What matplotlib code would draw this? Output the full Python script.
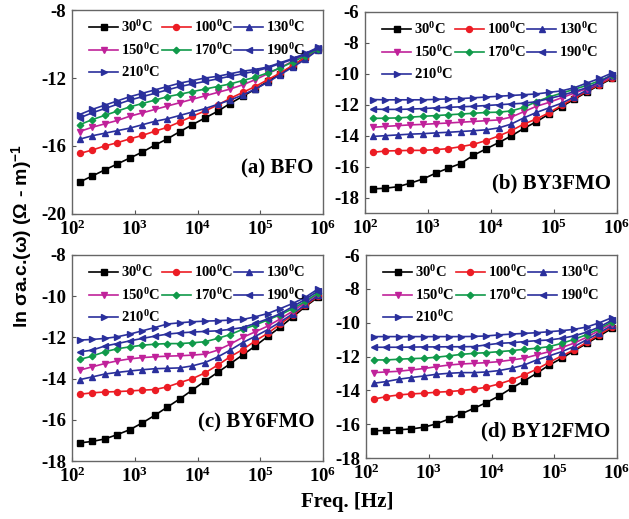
import matplotlib.pyplot as plt

plt.rcParams['font.family'] = 'Liberation Serif'
plt.rcParams['font.weight'] = 'bold'
plt.rcParams['mathtext.fontset'] = 'custom'
plt.rcParams['mathtext.rm'] = 'Liberation Serif:bold'
plt.rcParams['mathtext.it'] = 'Liberation Serif:bold'
plt.rcParams['mathtext.bf'] = 'Liberation Serif:bold'
plt.rcParams['mathtext.sf'] = 'Liberation Sans:bold'
plt.rcParams['axes.unicode_minus'] = False

# measurement frequencies (Hz)
freq = [132, 209, 331, 525, 832, 1318, 2089, 3311, 5248, 8318,
        13183, 20893, 33113, 52481, 83176, 131826, 208930, 331131, 524807, 831764]

temps = ['30', '100', '130', '150', '170', '190', '210']

# ln sigma_ac for each temperature (rows follow temps)
bfo = [
    [-18.12, -17.77, -17.41, -17.06, -16.71, -16.36, -15.95, -15.58, -15.15, -14.74,
     -14.35, -13.96, -13.5, -13.08, -12.65, -12.2, -11.75, -11.28, -10.77, -10.3],
    [-16.44, -16.24, -16.0, -15.81, -15.58, -15.38, -15.13, -14.9, -14.58, -14.25,
     -13.94, -13.59, -13.2, -12.85, -12.5, -12.1, -11.7, -11.25, -10.8, -10.35],
    [-15.6, -15.4, -15.25, -15.1, -14.95, -14.75, -14.55, -14.4, -14.2, -14.0,
     -13.8, -13.55, -13.3, -13.0, -12.65, -12.25, -11.8, -11.35, -10.9, -10.35],
    [-15.15, -14.9, -14.7, -14.5, -14.25, -14.05, -13.85, -13.65, -13.45, -13.25,
     -13.05, -12.85, -12.65, -12.4, -12.1, -11.75, -11.4, -11.0, -10.65, -10.3],
    [-14.75, -14.45, -14.2, -13.95, -13.7, -13.5, -13.3, -13.1, -12.95, -12.8,
     -12.65, -12.5, -12.35, -12.15, -11.95, -11.7, -11.4, -11.05, -10.7, -10.3],
    [-14.35, -14.05, -13.8, -13.55, -13.3, -13.1, -12.9, -12.7, -12.5, -12.35,
     -12.2, -12.05, -11.9, -11.75, -11.6, -11.4, -11.15, -10.9, -10.6, -10.25],
    [-14.15, -13.85, -13.6, -13.35, -13.1, -12.9, -12.7, -12.5, -12.3, -12.15,
     -12.0, -11.9, -11.75, -11.6, -11.5, -11.35, -11.1, -10.85, -10.55, -10.2],
]

by3fmo = [
    [-17.44, -17.4, -17.3, -17.07, -16.8, -16.43, -16.1, -15.8, -15.27, -14.86,
     -14.45, -14.02, -13.53, -13.1, -12.6, -12.12, -11.65, -11.18, -10.73, -10.3],
    [-15.08, -14.99, -14.97, -14.95, -14.95, -14.9, -14.84, -14.71, -14.56, -14.32,
     -14.02, -13.68, -13.25, -12.92, -12.52, -12.04, -11.59, -11.12, -10.69, -10.24],
    [-14.05, -14.0, -13.95, -13.9, -13.87, -13.82, -13.78, -13.73, -13.68, -13.62,
     -13.5, -13.25, -12.85, -12.5, -12.2, -11.9, -11.5, -11.05, -10.6, -10.15],
    [-13.46, -13.4, -13.35, -13.3, -13.27, -13.22, -13.18, -13.13, -13.08, -13.03,
     -12.98, -12.8, -12.45, -12.1, -11.85, -11.55, -11.25, -10.95, -10.6, -10.15],
    [-12.88, -12.87, -12.85, -12.8, -12.75, -12.7, -12.65, -12.6, -12.55, -12.5,
     -12.48, -12.4, -12.17, -11.8, -11.5, -11.25, -11.0, -10.75, -10.45, -10.1],
    [-12.28, -12.3, -12.3, -12.28, -12.25, -12.2, -12.17, -12.13, -12.1, -12.05,
     -12.0, -11.95, -11.9, -11.8, -11.6, -11.4, -11.15, -10.9, -10.55, -10.05],
    [-11.66, -11.68, -11.68, -11.68, -11.68, -11.65, -11.62, -11.6, -11.55, -11.5,
     -11.45, -11.4, -11.35, -11.3, -11.2, -11.1, -10.9, -10.6, -10.3, -9.95],
]

by6fmo = [
    [-17.12, -17.05, -16.93, -16.72, -16.48, -16.15, -15.78, -15.38, -14.98, -14.55,
     -14.12, -13.7, -13.28, -12.85, -12.42, -11.95, -11.5, -11.0, -10.5, -10.05],
    [-14.76, -14.69, -14.65, -14.63, -14.6, -14.56, -14.53, -14.4, -14.19, -14.0,
     -13.72, -13.35, -12.94, -12.59, -12.17, -11.8, -11.35, -10.9, -10.45, -10.0],
    [-14.05, -13.92, -13.78, -13.7, -13.63, -13.57, -13.52, -13.5, -13.48, -13.38,
     -13.22, -12.95, -12.62, -12.25, -11.95, -11.62, -11.25, -10.85, -10.4, -9.95],
    [-13.59, -13.43, -13.27, -13.14, -13.04, -12.98, -12.94, -12.91, -12.89, -12.86,
     -12.81, -12.62, -12.33, -12.0, -11.73, -11.45, -11.1, -10.72, -10.3, -9.88],
    [-13.07, -12.91, -12.7, -12.55, -12.46, -12.38, -12.33, -12.3, -12.3, -12.26,
     -12.21, -12.05, -11.86, -11.61, -11.4, -11.15, -10.9, -10.6, -10.25, -9.85],
    [-12.7, -12.62, -12.42, -12.3, -12.17, -12.05, -11.94, -11.84, -11.78, -11.74,
     -11.71, -11.68, -11.61, -11.52, -11.32, -11.1, -10.85, -10.5, -10.15, -9.75],
    [-12.13, -12.1, -12.05, -11.97, -11.84, -11.68, -11.52, -11.35, -11.29, -11.24,
     -11.21, -11.19, -11.16, -11.13, -11.0, -10.84, -10.6, -10.35, -10.05, -9.65],
]

by12fmo = [
    [-16.39, -16.37, -16.33, -16.28, -16.18, -15.98, -15.7, -15.39, -15.06, -14.72,
     -14.33, -13.87, -13.44, -12.99, -12.5, -12.1, -11.65, -11.22, -10.78, -10.33],
    [-14.52, -14.37, -14.27, -14.21, -14.17, -14.11, -14.07, -14.01, -13.93, -13.81,
     -13.62, -13.38, -13.09, -12.75, -12.34, -11.96, -11.6, -11.15, -10.7, -10.25],
    [-13.58, -13.48, -13.34, -13.24, -13.15, -13.05, -12.99, -12.95, -12.95, -12.91,
     -12.83, -12.69, -12.5, -12.2, -11.96, -11.71, -11.4, -11.0, -10.6, -10.15],
    [-12.95, -12.91, -12.87, -12.79, -12.71, -12.6, -12.5, -12.44, -12.4, -12.36,
     -12.3, -12.2, -12.1, -11.9, -11.71, -11.47, -11.2, -10.85, -10.45, -10.05],
    [-12.2, -12.2, -12.16, -12.12, -12.1, -12.04, -11.96, -11.87, -11.81, -11.77,
     -11.71, -11.65, -11.57, -11.51, -11.41, -11.22, -10.98, -10.7, -10.35, -9.95],
    [-11.45, -11.45, -11.45, -11.44, -11.43, -11.43, -11.42, -11.42, -11.41, -11.31,
     -11.22, -11.18, -11.12, -11.06, -11.02, -10.92, -10.78, -10.55, -10.25, -9.85],
    [-10.82, -10.82, -10.82, -10.82, -10.82, -10.82, -10.82, -10.82, -10.81, -10.78,
     -10.72, -10.67, -10.63, -10.59, -10.53, -10.47, -10.39, -10.25, -10.0, -9.7],
]

colors = ['black', '#ec1c24', '#2a2f9c', '#c0229a', '#109a4a', '#2a2f9c', '#2a2f9c']
markers = ['s', 'o', '^', 'v', 'D', '<', '>']
msizes = [3.8, 4.3, 4.3, 4.3, 3.3, 4.3, 4.3]

panels = [
    (bfo, '(a) BFO', [0.1145, 0.5877, 0.399, 0.393], (-20, -8), [-20, -16, -12, -8], (0.96, 0.225)),
    (by3fmo, '(b) BY3FMO', [0.5803, 0.5896, 0.4006, 0.3873], (-19, -6), [-18, -16, -14, -12, -10, -8, -6], (0.975, 0.145)),
    (by6fmo, '(c) BY6FMO', [0.1145, 0.1117, 0.399, 0.397], (-18, -8), [-18, -16, -14, -12, -10, -8], (0.965, 0.185)),
    (by12fmo, '(d) BY12FMO', [0.5819, 0.1175, 0.399, 0.391], (-18, -6), [-18, -16, -14, -12, -10, -8, -6], (0.975, 0.13)),
]

# legend fills column-first, reorder so it reads row-wise
legend_order = [0, 3, 6, 1, 4, 2, 5]

fig = plt.figure(figsize=(6.29, 5.19), dpi=100)

for data, label, rect, ylim, yticks, lab_pos in panels:
    ax = fig.add_axes(rect)
    lines = []
    for k in range(len(temps)):
        ln, = ax.plot(freq, data[k], color=colors[k], marker=markers[k], markersize=msizes[k],
                      linewidth=1.2, label=temps[k] + '$^0$C')
        lines.append(ln)
    ax.set_xscale('log')
    ax.set_xlim(1e2, 1e6)
    ax.set_ylim(*ylim)
    ax.set_yticks(yticks)
    ax.set_xticks([1e2, 1e3, 1e4, 1e5, 1e6])
    ax.set_xticklabels(['10$^2$', '10$^3$', '10$^4$', '10$^5$', '10$^6$'])
    ax.minorticks_off()
    ax.tick_params(direction='in', length=3, width=0.8, labelsize=13.5, pad=4, color='#555555')
    for lab in ax.get_yticklabels() + ax.get_xticklabels():
        lab.set_fontweight('bold')
    for sp in ax.spines.values():
        sp.set_color('#666666')
        sp.set_linewidth(1.0)
    h = [lines[i] for i in legend_order]
    ax.legend(handles=h, loc='upper left', bbox_to_anchor=(0.03, 1.0), ncol=3, frameon=False,
              fontsize=10.5, handlelength=2.0, handletextpad=0.2, columnspacing=0.1,
              labelspacing=0.45, borderaxespad=0.25)
    ax.text(lab_pos[0], lab_pos[1], label, transform=ax.transAxes, ha='right', va='center',
            fontsize=15, fontweight='bold')

fig.text(0.552, 0.033, 'Freq. [Hz]', ha='center', va='center', fontsize=15, fontweight='bold')
fig.text(0.035, 0.545, 'ln σa.c.(ω) (Ω - m)$^{\\mathsf{-1}}$', rotation=90, ha='center', va='center',
         fontsize=14, fontweight='bold', family='Liberation Sans')

fig.savefig('out.png', dpi=100)
